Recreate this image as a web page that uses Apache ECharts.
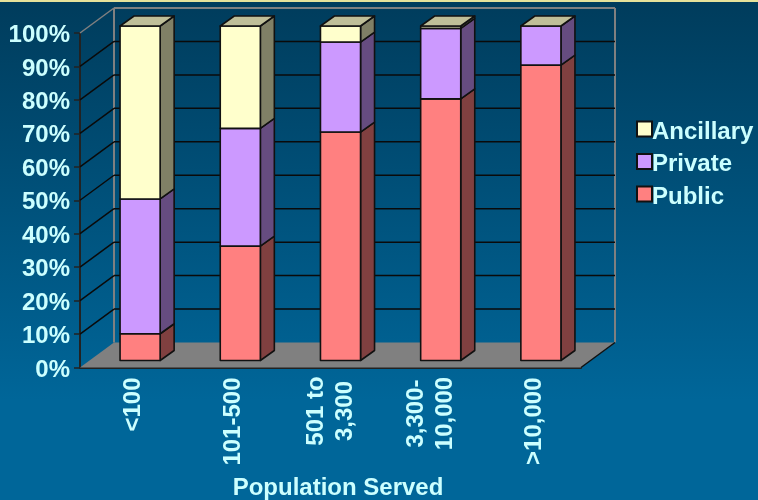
<!DOCTYPE html>
<html>
<head>
<meta charset="utf-8">
<style>html,body{margin:0;padding:0;background:#006699}#c{width:758px;height:500px}</style>
<script src="https://cdn.jsdelivr.net/npm/echarts@6/dist/echarts.min.js"></script>
</head>
<body>
<div id="c"></div>
<script>
// Share of water systems by ownership type, per size class of population served.
const categories = ['<100', '101-500', '501 to\n3,300', '3,300-\n10,000', '>10,000'];
const publicShare = [8, 34.2, 68.3, 78.2, 88.3];
const privateShare = [40.3, 35.2, 26.9, 21.1, 11.7];
const ancillaryShare = [51.7, 30.6, 4.8, 0.7, 0];
const yTicks = [0, 10, 20, 30, 40, 50, 60, 70, 80, 90, 100];

const INK = '#ccffff';
const FONT = '"Liberation Sans", Arial, sans-serif';
const DEPTH = [34, -25];        // oblique offset of the back wall
const BAR_SHIFT = [10, -7];     // front face of a bar, relative to the front plane
const BAR_DEPTH = [14, -10];    // oblique side of a bar
const BAR_SCALE = 0.4;          // bar width as a share of the category band
const LID = '#bfbf99';

const stacks = [
  { name: 'Public', values: publicShare, face: '#ff8080', side: '#804040' },
  { name: 'Private', values: privateShare, face: '#cc99ff', side: '#664c80' },
  { name: 'Ancillary', values: ancillaryShare, face: '#ffffcc', side: '#808066' }
];

const poly = (points, fill, stroke, width) => ({
  type: 'polygon',
  shape: { points },
  style: { fill, stroke: stroke || 'none', lineWidth: width === undefined ? 1.6 : width, lineJoin: 'round' }
});
const seg = (a, b, stroke, width) => ({
  type: 'line',
  shape: { x1: a[0], y1: a[1], x2: b[0], y2: b[1] },
  style: { stroke, lineWidth: width }
});
const move = (p, d) => [p[0] + d[0], p[1] + d[1]];

// Floor, walls and gridlines of the oblique plot box.
function renderWalls(params, api) {
  const v = api.value(1);
  const left = api.coord([0, v]);
  left[0] = params.coordSys.x;
  const right = [left[0] + params.coordSys.width, left[1]];
  const backLeft = move(left, DEPTH);
  const backRight = move(right, DEPTH);
  const children = [];
  if (v === 0) {
    children.push(poly([left, right, backRight, backLeft], '#808080'));
    children.push(seg(backRight, move(backRight, [0, -params.coordSys.height]), '#808080', 2));
    children.push(seg(backLeft, move(backLeft, [0, -params.coordSys.height]), '#808080', 2));
    children.push(seg(right, backRight, '#111111', 1.5));
  } else if (v === 100) {
    children.push(seg(left, backLeft, '#808080', 1.5));
    children.push(seg(backLeft, backRight, '#808080', 2));
  } else {
    children.push(seg(left, backLeft, '#0a0a0a', 1.5));
    children.push(seg(backLeft, backRight, '#0a0a0a', 1.5));
  }
  return { type: 'group', children };
}

// One stacked segment of a bar: front face, side face and, on the highest segment, the lid.
function renderSegment(stackIndex) {
  return function (params, api) {
    const cat = api.value(0);
    const base = stacks.slice(0, stackIndex).reduce((s, k) => s + k.values[cat], 0);
    const value = stacks[stackIndex].values[cat];
    if (!value) return null;
    const halfWidth = api.size([1, 0])[0] * BAR_SCALE / 2;
    const lo = move(api.coord([cat, base]), BAR_SHIFT);
    const hi = move(api.coord([cat, base + value]), BAR_SHIFT);
    const a = [lo[0] - halfWidth, lo[1]];
    const b = [lo[0] + halfWidth, lo[1]];
    const c = [hi[0] + halfWidth, hi[1]];
    const d = [hi[0] - halfWidth, hi[1]];
    const st = stacks[stackIndex];
    const children = [
      poly([b, move(b, BAR_DEPTH), move(c, BAR_DEPTH), c], st.side, '#111111'),
      poly([a, b, c, d], st.face, '#111111')
    ];
    if (base + value >= 99.9) {
      children.push(poly([d, c, move(c, BAR_DEPTH), move(d, BAR_DEPTH)], LID, '#111111'));
    }
    return { type: 'group', children };
  };
}

const chart = echarts.init(document.getElementById('c'), null, { renderer: 'canvas' });
const labelFont = { fontFamily: FONT, fontWeight: 'bold', fontSize: 24, color: INK };

// Category labels: two-line labels are centred line by line, single lines sit in a taller box.
function categoryLabel(value, index) {
  if (!value.includes('\n')) return '{s|' + value + '}';
  const style = index === 2 ? 'n' : 'm';
  return value.split('\n').map(l => '{' + style + '|' + l + '}').join('\n');
}

chart.setOption({
  animation: false,
  backgroundColor: {
    type: 'linear', x: 0, y: 0, x2: 0, y2: 1,
    colorStops: [
      { offset: 0, color: '#003c5c' },
      { offset: 0.8, color: '#006699' },
      { offset: 1, color: '#006699' }
    ]
  },
  graphic: [{
    type: 'rect', left: 0, top: 0, silent: true,
    shape: { width: 758, height: 2 },
    style: { fill: '#e6e29a' }
  }],
  grid: { left: 80, top: 33, width: 501, height: 334.5, outerBoundsMode: 'none' },
  legend: {
    orient: 'vertical',
    left: 631,
    top: 115,
    itemWidth: 15,
    itemHeight: 15,
    itemGap: 8.5,
    icon: 'rect',
    selectedMode: false,
    data: ['Ancillary', 'Private', 'Public'],
    formatter: '{t|{name}}',
    textStyle: {
      ...labelFont,
      padding: [0, 0, 0, -5],
      rich: { t: { ...labelFont, padding: [6, 0, 0, 0] } }
    }
  },
  xAxis: {
    type: 'category',
    data: categories,
    name: 'Population Served',
    nameLocation: 'middle',
    nameGap: 109,
    nameTextStyle: { ...labelFont, padding: [0, 0, 0, 15] },
    axisLine: { onZero: true, lineStyle: { color: '#222222', width: 2 } },
    axisTick: { length: 7, lineStyle: { color: '#222222', width: 1.5 } },
    axisLabel: {
      ...labelFont,
      rotate: 90,
      margin: 10,
      interval: 0,
      formatter: categoryLabel,
      rich: {
        s: { ...labelFont, padding: [7, 0, 0, 0] },
        m: { ...labelFont, width: 72, align: 'center', lineHeight: 29 },
        n: { ...labelFont, width: 67, align: 'center', lineHeight: 29 }
      }
    }
  },
  yAxis: {
    type: 'value',
    min: 0,
    max: 100,
    interval: 10,
    splitLine: { show: false },
    axisLine: { show: true, lineStyle: { color: '#222222', width: 2 } },
    axisTick: { show: true, length: 6, lineStyle: { color: '#222222', width: 1.5 } },
    axisLabel: {
      ...labelFont,
      margin: 10,
      formatter: v => '{p|' + v + '%}',
      rich: { p: { ...labelFont, padding: [5, 0, 0, 0] } }
    }
  },
  series: [
    {
      type: 'custom',
      name: 'walls',
      silent: true,
      z: 1,
      renderItem: renderWalls,
      data: yTicks.map(v => [0, v]),
      encode: { x: 0, y: 1 }
    },
    ...stacks.map((s, i) => ({
      type: 'custom',
      name: s.name,
      z: 2 + i,
      itemStyle: { color: s.face, borderColor: '#111111', borderWidth: 1.5 },
      renderItem: renderSegment(i),
      data: s.values.map((v, c) => [c, v]),
      encode: { x: 0, y: 1 }
    }))
  ]
});
</script>
</body>
</html>
